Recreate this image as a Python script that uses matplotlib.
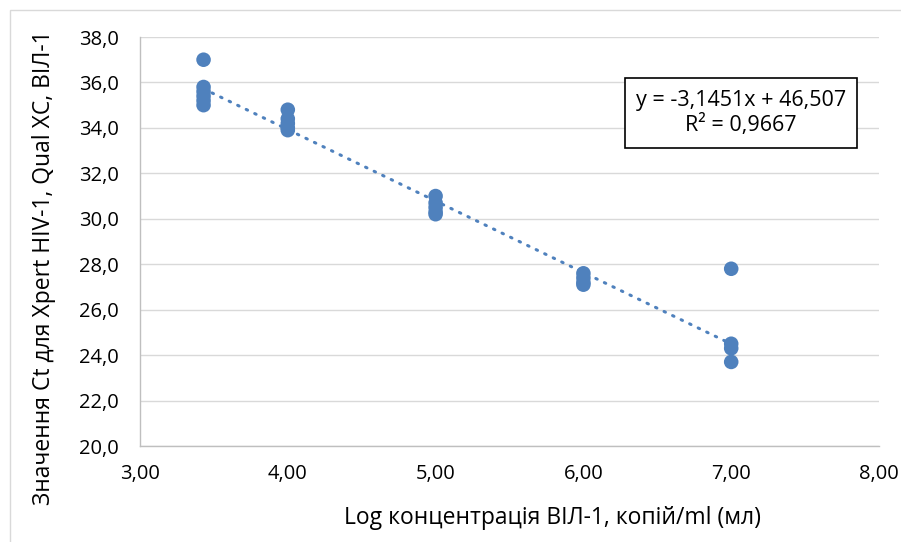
import matplotlib
matplotlib.use("Agg")
import matplotlib.pyplot as plt
from matplotlib.patches import Rectangle
import numpy as np

plt.rcParams['font.family'] = ['Open Sans', 'DejaVu Sans']

# Data (log concentration vs Ct values)
x_33 = [3.43] * 6
y_33 = [37.0, 35.8, 35.6, 35.4, 35.2, 35.0]
x_4 = [4.0] * 5
y_4 = [34.8, 34.4, 34.2, 34.0, 33.9]
x_5 = [5.0] * 5
y_5 = [31.0, 30.7, 30.5, 30.3, 30.2]
x_6 = [6.0] * 4
y_6 = [27.6, 27.4, 27.2, 27.1]
x_7 = [7.0] * 4
y_7 = [27.8, 24.5, 24.3, 23.7]

slope = -3.1451
intercept = 46.507
r2_text = "R² = 0,9667"
eq_text = "y = -3,1451x + 46,507"

xticks = [3, 4, 5, 6, 7, 8]
xticklabels = ["3,00", "4,00", "5,00", "6,00", "7,00", "8,00"]
yticks = [20, 22, 24, 26, 28, 30, 32, 34, 36, 38]
yticklabels = ["20,0", "22,0", "24,0", "26,0", "28,0", "30,0", "32,0", "34,0", "36,0", "38,0"]

xlabel = "Log концентрація ВІЛ-1, копій/ml (мл)"
ylabel = "Значення Ct для Xpert HIV-1, Qual XC, ВІЛ-1"

xs = np.array(x_33 + x_4 + x_5 + x_6 + x_7)
ys = np.array(y_33 + y_4 + y_5 + y_6 + y_7)

color = '#4F81BD'
W, H = 901, 542

fig = plt.figure(figsize=(9.01, 5.42), dpi=100)
# outer chart frame (cropped at right/bottom)
fig.patches.append(Rectangle((10/W, -0.1), 2.0, 1 - 10/H + 0.1, transform=fig.transFigure,
                             fill=False, edgecolor='#d9d9d9', linewidth=1.0))

ax = fig.add_axes([140/W, (H-446)/H, 739/W, 409/H])
ax.set_xlim(3, 8)
ax.set_ylim(20, 38)

ax.set_yticks(yticks)
ax.set_yticklabels(yticklabels)
ax.set_xticks(xticks)
ax.set_xticklabels(xticklabels)
ax.tick_params(axis='both', length=0, labelsize=14.5, colors='#000000')
ax.tick_params(axis='y', pad=15)
ax.tick_params(axis='x', pad=13)
ax.grid(axis='y', color='#d9d9d9', linewidth=1.0)
ax.set_axisbelow(True)
for s in ['top', 'right']:
    ax.spines[s].set_visible(False)
for s in ['left', 'bottom']:
    ax.spines[s].set_color('#bfbfbf')
    ax.spines[s].set_linewidth(1.0)

# trendline
tx = np.array([xs.min(), xs.max()])
ax.plot(tx, slope * tx + intercept, color=color, linewidth=2.2,
        linestyle=(0, (0.5, 2.6)), dash_capstyle='round', zorder=2)

ax.scatter(xs, ys, s=110, color=color, edgecolors='none', zorder=3)

# equation box
box_l, box_r, box_t, box_b = 625, 857, 78, 148
ax.add_patch(Rectangle((box_l/W, 1 - box_b/H), (box_r-box_l)/W, (box_b-box_t)/H,
                       transform=fig.transFigure, fill=True, facecolor='white',
                       edgecolor='black', linewidth=1.2, zorder=5, clip_on=False))
ax.text(741/W, 1 - 113/H, eq_text + "\n" + r2_text, transform=fig.transFigure,
        ha='center', va='center', fontsize=15.5, linespacing=1.15, zorder=6)

fig.text(552/W, 1 - 518/H, xlabel, ha='center', va='center', fontsize=16.5)
fig.text(44/W, 1 - 268/H, ylabel, ha='center', va='center', rotation=90, fontsize=16.5)

fig.savefig("out.png", dpi=100)
